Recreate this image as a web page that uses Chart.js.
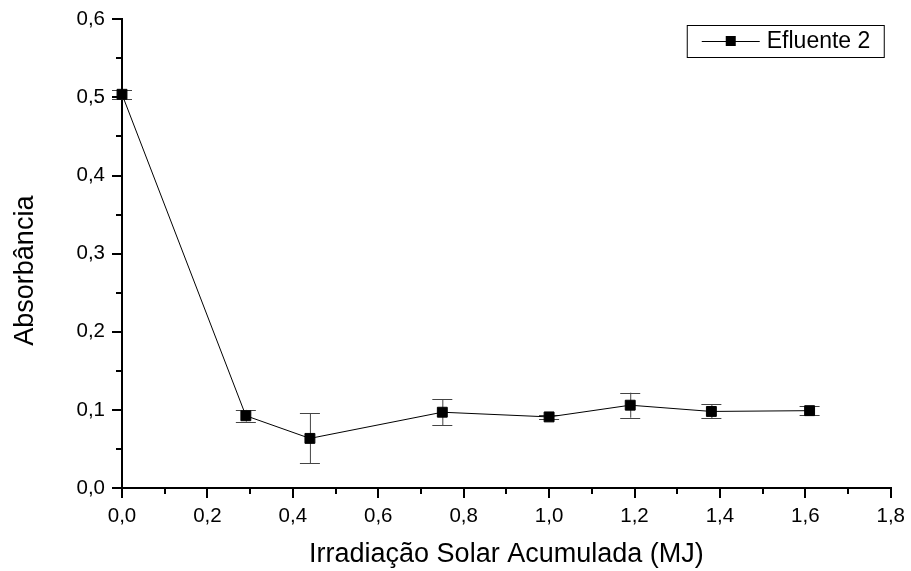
<!DOCTYPE html>
<html>
<head>
<meta charset="utf-8">
<script src="https://cdn.jsdelivr.net/npm/chart.js@4"></script>
<style>
  html, body { margin: 0; padding: 0; background: #fff; }
  canvas { display: block; }
</style>
</head>
<body>
<canvas id="c" width="911" height="571"></canvas>
<script>
// Accumulated solar irradiation (MJ) and measured absorbance
const irradiation = [0.0, 0.29, 0.44, 0.75, 1.0, 1.19, 1.38, 1.61];
const absorbance  = [0.504, 0.0925, 0.0635, 0.097, 0.091, 0.106, 0.098, 0.099];
const absError    = [0.006, 0.0075, 0.032, 0.0165, 0.003, 0.016, 0.009, 0.0057];
const seriesName  = 'Efluente 2';
const xTitle = 'Irradiação Solar Acumulada (MJ)';
const yTitle = 'Absorbância';

const FONT = '"Liberation Sans", Arial, Helvetica, sans-serif';
const commaFmt = v => Number(v).toFixed(1).replace('.', ',');

// Vertical error bars with caps, drawn behind the line and markers
const errorBars = {
  id: 'errorBars',
  beforeDatasetsDraw(chart) {
    const { ctx, scales: { x, y } } = chart;
    ctx.save();
    ctx.strokeStyle = '#444';
    ctx.lineWidth = 1;
    irradiation.forEach((xv, i) => {
      const px = x.getPixelForValue(xv);
      const top = y.getPixelForValue(absorbance[i] + absError[i]);
      const bot = y.getPixelForValue(absorbance[i] - absError[i]);
      ctx.beginPath();
      ctx.moveTo(px + 0.5, top); ctx.lineTo(px + 0.5, bot);
      ctx.moveTo(px - 10, Math.round(top) + 0.5); ctx.lineTo(px + 10, Math.round(top) + 0.5);
      ctx.moveTo(px - 10, Math.round(bot) + 0.5); ctx.lineTo(px + 10, Math.round(bot) + 0.5);
      ctx.stroke();
    });
    ctx.restore();
  }
};

// Minor tick marks halfway between the major ones, plus the rotated y title
const axisExtras = {
  id: 'axisExtras',
  afterDraw(chart) {
    const { ctx, scales: { x, y } } = chart;
    ctx.save();
    ctx.strokeStyle = '#000';
    ctx.lineWidth = 2;
    ctx.beginPath();
    for (let v = 0.1; v < 1.8; v += 0.2) {
      const px = Math.round(x.getPixelForValue(v));
      ctx.moveTo(px, y.bottom); ctx.lineTo(px, y.bottom + 6);
    }
    for (let v = 0.05; v < 0.6; v += 0.1) {
      const py = Math.round(y.getPixelForValue(v));
      ctx.moveTo(x.left, py); ctx.lineTo(x.left - 6, py);
    }
    ctx.stroke();

    ctx.translate(26, y.top + (y.bottom - y.top) / 2 + 17);
    ctx.rotate(-Math.PI / 2);
    ctx.fillStyle = '#000';
    ctx.font = '27px ' + FONT;
    ctx.textAlign = 'center';
    ctx.textBaseline = 'middle';
    ctx.fillText(yTitle, 0, 0);
    ctx.restore();
  }
};

// Boxed legend in the upper right corner of the plot
const boxLegend = {
  id: 'boxLegend',
  afterDraw(chart) {
    const { ctx, chartArea } = chart;
    const bx = chartArea.right - 204, by = 25, bw = 197, bh = 32;
    const cy = by + bh / 2;
    ctx.save();
    ctx.strokeStyle = '#000';
    ctx.lineWidth = 1;
    ctx.strokeRect(bx + 0.5, by + 0.5, bw, bh);
    ctx.beginPath();
    ctx.moveTo(bx + 15, cy + 0.5); ctx.lineTo(bx + 73, cy + 0.5);
    ctx.stroke();
    ctx.fillStyle = '#000';
    ctx.fillRect(bx + 39, cy - 5, 10, 10);
    ctx.font = '23px ' + FONT;
    ctx.textBaseline = 'middle';
    ctx.fillText(seriesName, bx + 80, cy + 1);
    ctx.restore();
  }
};

new Chart(document.getElementById('c'), {
  type: 'line',
  data: {
    datasets: [{
      label: seriesName,
      data: irradiation.map((xv, i) => ({ x: xv, y: absorbance[i] })),
      borderColor: '#000',
      borderWidth: 1,
      tension: 0,
      pointStyle: 'rect',
      pointRadius: 7,
      pointHoverRadius: 7,
      pointBackgroundColor: '#000',
      pointBorderColor: '#000',
      pointBorderWidth: 1,
      clip: false
    }]
  },
  options: {
    responsive: false,
    devicePixelRatio: 1,
    animation: false,
    events: [],
    layout: { padding: { left: 0, right: 18, top: 18, bottom: 0 } },
    plugins: { legend: { display: false }, tooltip: { enabled: false } },
    scales: {
      x: {
        type: 'linear',
        min: 0, max: 1.8,
        afterFit(s) { s.height = 83; },
        border: { display: true, color: '#000', width: 2 },
        grid: { display: true, drawOnChartArea: false, drawTicks: true, tickLength: 10, color: '#000', lineWidth: 2 },
        ticks: { stepSize: 0.2, padding: 6, color: '#000', font: { family: FONT, size: 20.5 }, callback: commaFmt, maxRotation: 0 },
        title: { display: true, text: xTitle, color: '#000', font: { family: FONT, size: 27 }, padding: { top: 0, bottom: 0 } }
      },
      y: {
        type: 'linear',
        min: 0, max: 0.6,
        afterFit(s) { s.width = 122; },
        border: { display: true, color: '#000', width: 2 },
        grid: { display: true, drawOnChartArea: false, drawTicks: true, tickLength: 10, color: '#000', lineWidth: 2 },
        ticks: { stepSize: 0.1, padding: 7, color: '#000', font: { family: FONT, size: 20.5 }, callback: commaFmt },
        title: { display: false }
      }
    }
  },
  plugins: [errorBars, axisExtras, boxLegend]
});
</script>
</body>
</html>
